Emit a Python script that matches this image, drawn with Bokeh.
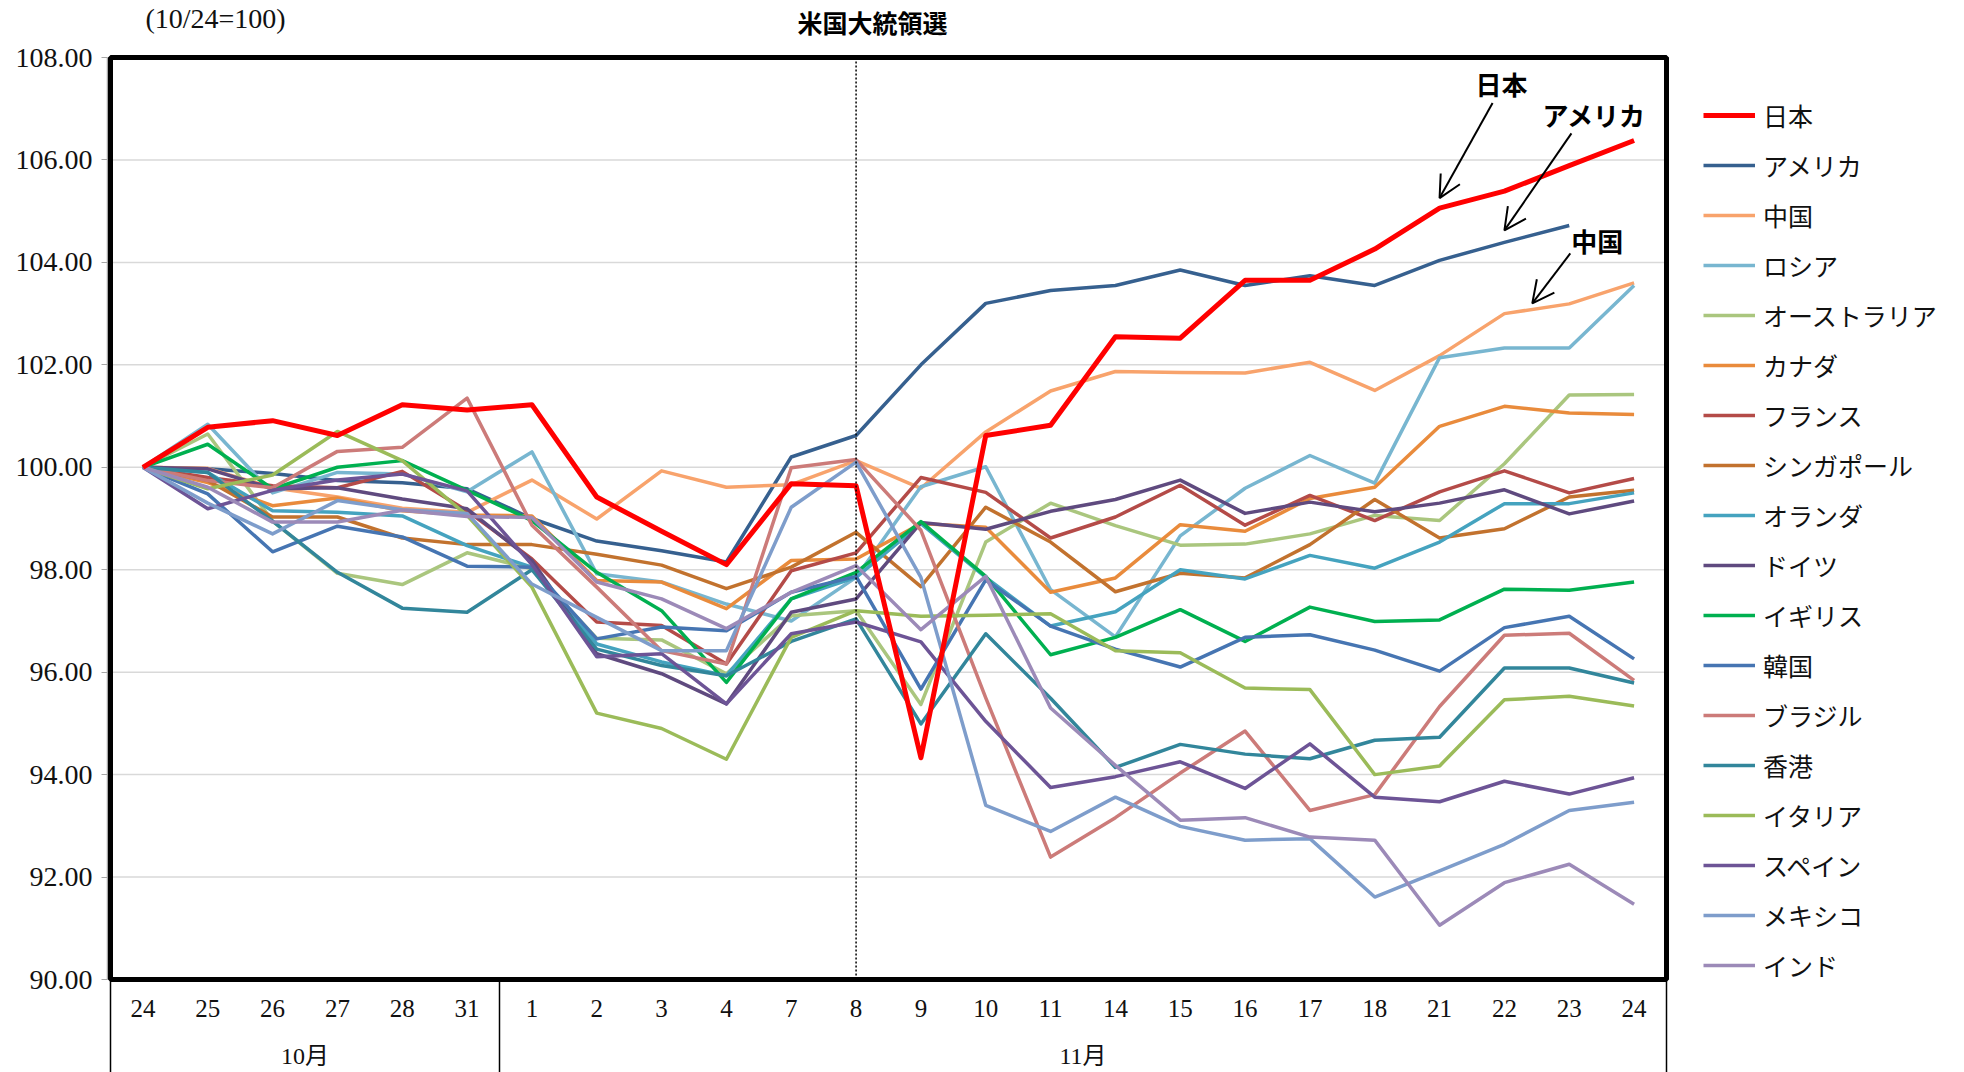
import math
from bokeh.plotting import figure
from bokeh.models import (Range1d, FixedTicker, Legend, LegendItem, Label, Arrow,
                          OpenHead, BoxAnnotation, NumeralTickFormatter)
from bokeh.core.properties import value
from bokeh.embed import file_html
from bokeh.resources import INLINE

# ---------------- data ----------------
days = ["24", "25", "26", "27", "28", "31", "1", "2", "3", "4", "7", "8", "9", "10",
        "11", "14", "15", "16", "17", "18", "21", "22", "23", "24"]
months = ["10月"] * 6 + ["11月"] * 18

names = ["日本", "アメリカ", "中国", "ロシア", "オーストラリア", "カナダ", "フランス",
         "シンガポール", "オランダ", "ドイツ", "イギリス", "韓国", "ブラジル", "香港",
         "イタリア", "スペイン", "メキシコ", "インド"]

japan = [100.00, 100.78, 100.91, 100.62, 101.22, 101.12, 101.22, 99.42, 98.75, 98.10, 99.68, 99.64,
         94.33, 100.62, 100.82, 102.55, 102.52, 103.65, 103.65, 104.26, 105.06, 105.39, 105.89, 106.38]
usa = [100.00, 99.97, 99.88, 99.74, 99.70, 99.58, 99.00, 98.56, 98.37, 98.15, 100.20, 100.62,
       102.00, 103.20, 103.45, 103.55, 103.85, 103.55, 103.74, 103.55, 104.04, 104.39, 104.72, None]
china = [100.00, 99.98, 99.60, 99.42, 99.20, 99.12, 99.75, 98.99, 99.93, 99.61, 99.66, 100.13,
         99.59, 100.69, 101.49, 101.87, 101.85, 101.84, 102.05, 101.50, 102.18, 103.00, 103.19, 103.60]
russia = [100.00, 100.84, 99.50, 99.90, 99.87, 99.52, 100.30, 97.92, 97.76, 97.33, 97.00, 97.85,
          99.62, 100.01, 97.61, 96.69, 98.66, 99.59, 100.23, 99.69, 102.14, 102.33, 102.33, 103.55]
australia = [100.00, 100.65, 98.95, 97.93, 97.71, 98.33, 98.02, 96.66, 96.63, 95.97, 97.10, 97.20,
             95.37, 98.54, 99.30, 98.86, 98.48, 98.50, 98.70, 99.06, 98.96, 100.07, 101.41, 101.42]
canada = [100.00, 99.70, 99.25, 99.40, 99.15, 99.07, 99.05, 97.79, 97.76, 97.24, 98.18, 98.21,
          98.90, 98.83, 97.56, 97.84, 98.88, 98.75, 99.39, 99.61, 100.80, 101.19, 101.06, 101.03]
france = [100.00, 99.80, 99.64, 99.60, 99.92, 99.15, 98.21, 96.98, 96.91, 96.16, 97.98, 98.33,
          99.80, 99.51, 98.62, 99.03, 99.65, 98.87, 99.45, 98.96, 99.52, 99.93, 99.50, 99.78]
singapore = [100.00, 99.74, 99.03, 99.03, 98.62, 98.49, 98.49, 98.30, 98.09, 97.63, 98.05, 98.73,
             97.67, 99.22, 98.54, 97.57, 97.93, 97.84, 98.49, 99.37, 98.62, 98.80, 99.42, 99.55]
netherlands = [100.00, 99.90, 99.15, 99.12, 99.05, 98.47, 98.05, 96.55, 96.20, 95.93, 97.43, 97.85,
               98.90, 97.85, 96.90, 97.18, 98.00, 97.82, 98.28, 98.03, 98.54, 99.29, 99.29, 99.50]
germany = [100.00, 99.97, 99.58, 99.60, 99.38, 99.19, 98.18, 96.36, 95.97, 95.38, 97.17, 97.43,
           98.92, 98.79, 99.14, 99.37, 99.75, 99.10, 99.32, 99.13, 99.30, 99.56, 99.09, 99.34]
uk = [100.00, 100.45, 99.58, 100.00, 100.13, 99.55, 98.96, 97.95, 97.20, 95.80, 97.43, 97.95,
      98.94, 97.87, 96.34, 96.68, 97.22, 96.60, 97.27, 96.99, 97.02, 97.62, 97.60, 97.76]
korea = [100.00, 99.48, 98.35, 98.85, 98.64, 98.07, 98.05, 96.65, 96.88, 96.81, 97.56, 97.87,
         95.67, 97.80, 96.90, 96.45, 96.10, 96.68, 96.73, 96.43, 96.02, 96.87, 97.09, 96.26]
brazil = [100.00, 99.74, 99.60, 100.31, 100.39, 101.35, 98.87, 97.66, 96.42, 96.16, 99.99, 100.15,
          98.77, 95.50, 92.39, 93.16, 94.03, 94.85, 93.30, 93.61, 95.33, 96.72, 96.76, 95.84]
hongkong = [100.00, 99.90, 98.95, 97.95, 97.25, 97.17, 98.00, 96.45, 96.13, 95.93, 96.60, 97.04,
            94.99, 96.75, 95.49, 94.14, 94.59, 94.40, 94.31, 94.67, 94.73, 96.08, 96.08, 95.79]
italy = [100.00, 99.58, 99.85, 100.70, 100.13, 99.06, 97.66, 95.20, 94.90, 94.30, 96.68, 97.20,
         97.09, 97.11, 97.14, 96.42, 96.38, 95.69, 95.66, 94.00, 94.17, 95.46, 95.53, 95.34]
spain = [100.00, 99.19, 99.55, 99.75, 99.87, 99.54, 98.10, 96.30, 96.36, 95.38, 96.75, 96.98,
         96.59, 95.04, 93.75, 93.96, 94.25, 93.73, 94.60, 93.56, 93.47, 93.87, 93.62, 93.94]
mexico = [100.00, 99.30, 98.70, 99.35, 99.17, 99.10, 97.72, 97.07, 96.42, 96.42, 99.22, 100.10,
          97.85, 93.40, 92.89, 93.56, 92.99, 92.72, 92.75, 91.61, 92.12, 92.64, 93.30, 93.46]
india = [100.00, 99.61, 98.93, 98.93, 99.16, 99.04, 99.02, 97.76, 97.43, 96.85, 97.56, 98.08,
         96.83, 97.87, 95.30, 94.18, 93.11, 93.16, 92.78, 92.72, 91.06, 91.89, 92.25, 91.47]

series_values = [japan, usa, china, russia, australia, canada, france, singapore, netherlands,
                 germany, uk, korea, brazil, hongkong, italy, spain, mexico, india]

colors = ["#FF0000", "#36608F", "#F8A36C", "#78B6D0", "#AAC67E", "#E98B3C", "#B44B48",
          "#C2722E", "#45A3BF", "#5F4A7F", "#00B050", "#4675B2", "#CC7B79", "#32869B",
          "#9BBB59", "#6D5496", "#7E9DCB", "#9C8AB8"]

y_ticks = [90, 92, 94, 96, 98, 100, 102, 104, 106, 108]
election_day = ("11月", "8")
title_text = "米国大統領選"
base_note = "(10/24=100)"

# annotations: label, tip position (category index), gap above line (px),
# arrow start offset (px), text offset (px)
annot_labels = ["日本", "アメリカ", "中国"]
annot_tip_idx = [20.0, 21.0, 21.43]
annot_gap_px = [10, 12, 6]
annot_start_px = [(53, 95), (67, 97), (38, 50)]
annot_text_px = [(62, 115), (90, 116), (65, 63)]

# ---------------- layout constants (pixels) ----------------
W, H = 1964, 1072
BOX_L, BOX_R, BOX_T, BOX_B = 110, 1666, 57, 979
LEFT = 107
Y_MIN, Y_MAX = y_ticks[0], y_ticks[-1]
n = len(days)
px_per_cat = (BOX_R - BOX_L) / n
px_per_unit = (BOX_B - BOX_T) / (Y_MAX - Y_MIN)
x0 = -0.5 - (BOX_L - LEFT) / px_per_cat
x1 = x0 + (W - LEFT) / px_per_cat
y0 = Y_MIN - (H - BOX_B) / px_per_unit
y1 = Y_MAX + BOX_T / px_per_unit

def sx(px):  # screen x (figure px) -> data x
    return x0 + (px - LEFT) / px_per_cat

def sy(py):  # screen y (figure px) -> data y
    return y1 - py / px_per_unit

p = figure(width=W, height=H, output_backend="svg", toolbar_location=None,
           x_range=Range1d(x0, x1), y_range=Range1d(y0, y1),
           min_border_left=LEFT, min_border_right=0, min_border_top=0,
           min_border_bottom=0, x_axis_location=None)
p.outline_line_color = None
p.background_fill_color = "white"
p.border_fill_color = "white"
p.xgrid.visible = False
p.ygrid.visible = False

ax = p.yaxis[0]
ax.ticker = FixedTicker(ticks=y_ticks)
ax.bounds = (Y_MIN, Y_MAX)
ax.formatter = NumeralTickFormatter(format="0.00")
ax.axis_line_color = "#A6A6A6"
ax.axis_line_width = 1.5
ax.major_tick_line_color = "#A6A6A6"
ax.major_tick_out = 6
ax.major_tick_in = 0
ax.minor_tick_line_color = None
ax.major_label_standoff = 9
ax.major_label_text_font = "Liberation Serif"
ax.major_label_text_font_size = "28px"
ax.major_label_text_color = "#111111"

xs = list(range(n))

# horizontal gridlines across the category span
p.segment(x0=[-0.5] * len(y_ticks), y0=y_ticks, x1=[n - 0.5] * len(y_ticks), y1=y_ticks,
          line_color="#D9D9D9", line_width=1.5)

# lines (Japan drawn last so it sits on top)
renderers = {}
order = list(range(1, len(names))) + [0]
for i in order:
    vals = [float("nan") if v is None else v for v in series_values[i]]
    r = p.line(xs, vals, line_color=colors[i], line_width=5 if i == 0 else 3.5,
               line_join="round")
    renderers[i] = r

# election day dotted line
e_idx = [k for k in range(n) if (months[k], days[k]) == election_day][0]
p.segment(x0=[e_idx], y0=[Y_MIN], x1=[e_idx], y1=[Y_MAX], line_color="black",
          line_width=1.5, line_dash="2 2")

# plot frame box
p.add_layout(BoxAnnotation(left=-0.5, right=n - 0.5, bottom=Y_MIN, top=Y_MAX,
                           fill_alpha=0, fill_color=None, line_color="black",
                           line_alpha=1.0, line_width=5))

# category table below the plot
bounds = [-0.5] + [k - 0.5 for k in range(1, n) if months[k] != months[k - 1]] + [n - 0.5]
p.segment(x0=bounds, y0=[Y_MIN] * len(bounds), x1=bounds, y1=[y0] * len(bounds),
          line_color="black", line_width=1.5)
num_font = value("'Liberation Serif', 'Noto Sans CJK JP'")
p.text(x=xs, y=[Y_MIN] * n, text=days, y_offset=29, text_align="center",
       text_baseline="middle", text_font=num_font, text_font_size="25px", text_color="#111111")
groups = []
for k, m in enumerate(months):
    if not groups or groups[-1][0] != m:
        groups.append([m, k, k])
    else:
        groups[-1][2] = k
p.text(x=[(g[1] + g[2]) / 2 for g in groups], y=[Y_MIN] * len(groups),
       text=[g[0] for g in groups], y_offset=76, text_align="center",
       text_baseline="middle", text_font=num_font, text_font_size="24px", text_color="#111111")

# legend (inside the extended frame, right of the plot box)
LEG_X, LEG_BOTTOM = 1703, 985
legend = Legend(items=[LegendItem(label=names[i], renderers=[renderers[i]]) for i in range(len(names))],
                location=(LEG_X - LEFT, H - LEG_BOTTOM), glyph_width=52, glyph_height=40,
                label_height=40, spacing=10, padding=0, margin=0, border_line_color=None,
                background_fill_alpha=0, label_standoff=8,
                label_text_font="Noto Sans CJK JP", label_text_font_size="25px",
                label_text_color="#111111")
p.add_layout(legend)

# annotations
def interp(vals, x):
    i0 = int(math.floor(x))
    i1 = min(i0 + 1, len(vals) - 1)
    t = x - i0
    return vals[i0] * (1 - t) + vals[i1] * t

for lab, tip_x, gap, (sdx, sdy), (tdx, tdy) in zip(annot_labels, annot_tip_idx, annot_gap_px,
                                                    annot_start_px, annot_text_px):
    vals = series_values[names.index(lab)]
    tip_y = interp(vals, tip_x) + gap / px_per_unit
    p.add_layout(Arrow(end=OpenHead(size=22, line_width=2, line_color="black"),
                       x_start=tip_x + sdx / px_per_cat, y_start=tip_y + sdy / px_per_unit,
                       x_end=tip_x, y_end=tip_y, line_width=2, line_color="black"))
    p.add_layout(Label(x=tip_x + tdx / px_per_cat, y=tip_y + tdy / px_per_unit, text=lab,
                       text_align="center", text_baseline="middle",
                       text_font="Noto Sans CJK JP", text_font_style="bold",
                       text_font_size="26px", text_color="black"))

# title and base note (above the plot box)
p.add_layout(Label(x=sx(872), y=sy(21), text=title_text,
                   text_align="center", text_baseline="middle", text_font="Noto Sans CJK JP",
                   text_font_style="bold", text_font_size="25px", text_color="black"))
p.add_layout(Label(x=sx(215), y=sy(18), text=base_note,
                   text_align="center", text_baseline="middle",
                   text_font="Liberation Serif", text_font_size="28px", text_color="#111111"))

open("out.html", "w").write(file_html(p, INLINE))
